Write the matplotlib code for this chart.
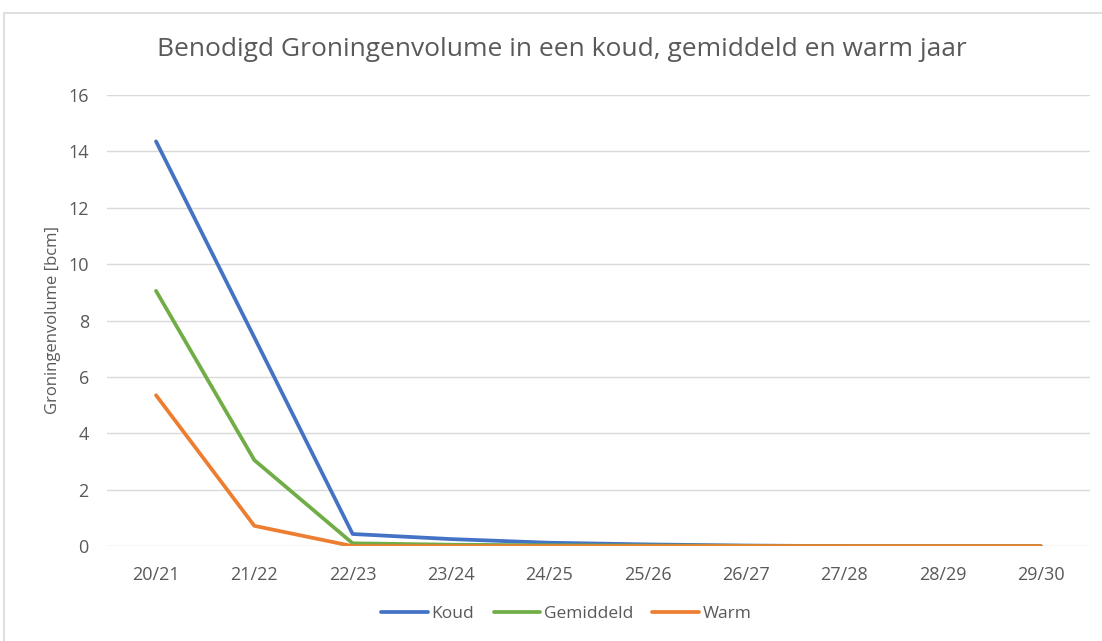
# -*- coding: utf-8 -*-
# Benodigd Groningenvolume - lijndiagram
import matplotlib
matplotlib.use("Agg")
import matplotlib.pyplot as plt
from matplotlib.patches import Rectangle

# Data
years = ["20/21", "21/22", "22/23", "23/24", "24/25",
         "25/26", "26/27", "27/28", "28/29", "29/30"]
koud = [14.35, 7.4, 0.43, 0.25, 0.12, 0.06, 0.02, 0.0, 0.0, 0.0]
gemiddeld = [9.05, 3.05, 0.1, 0.05, 0.03, 0.02, 0.01, 0.0, 0.0, 0.0]
warm = [5.35, 0.72, 0.0, 0.0, 0.0, 0.0, 0.0, 0.0, 0.0, 0.0]
yticks = [0, 2, 4, 6, 8, 10, 12, 14, 16]

text_col = "#595959"
grid_col = "#d9d9d9"
plt.rcParams['font.family'] = ['Open Sans', 'DejaVu Sans']

fig = plt.figure(figsize=(11.02, 6.41), dpi=100)
ax = fig.add_axes([0.097, 0.148, 0.892, 0.704])

x = range(len(years))
ax.plot(x, koud, color="#4472C4", lw=2.7, label="Koud", solid_capstyle="round", zorder=3)
ax.plot(x, gemiddeld, color="#70AD47", lw=2.7, label="Gemiddeld", solid_capstyle="round", zorder=4)
ax.plot(x, warm, color="#ED7D31", lw=2.7, label="Warm", solid_capstyle="round", zorder=5)

ax.set_xlim(-0.5, 9.5)
ax.set_ylim(0, 16)
ax.set_yticks(yticks)
ax.set_xticks(list(x))
ax.set_xticklabels(years)
ax.grid(axis="y", color=grid_col, lw=1.0)
ax.set_axisbelow(True)
for s in ax.spines.values():
    s.set_visible(False)
ax.tick_params(length=0, colors=text_col, labelsize=13)
ax.tick_params(axis="y", pad=13)
ax.tick_params(axis="x", pad=14)
ax.set_ylabel("Groningenvolume [bcm]", color=text_col, fontsize=12, labelpad=5)
ax.set_clip_on(False)

fig.text(0.51, 0.922, "Benodigd Groningenvolume in een koud, gemiddeld en warm jaar",
         ha="center", va="center", fontsize=19, color=text_col)

leg = fig.legend(loc="center", bbox_to_anchor=(0.514, 0.042), ncol=3, frameon=False,
                 fontsize=12.5, handlelength=2.7, columnspacing=1.1, handletextpad=0.2)
for t in leg.get_texts():
    t.set_color(text_col)

# chart border
fig.patches.append(Rectangle((4 / 1102, -0.01), 1.02, 1 - 13 / 641 + 0.01,
                             transform=fig.transFigure, fill=False,
                             edgecolor=grid_col, lw=1.2))

fig.savefig("out.png", dpi=100)
